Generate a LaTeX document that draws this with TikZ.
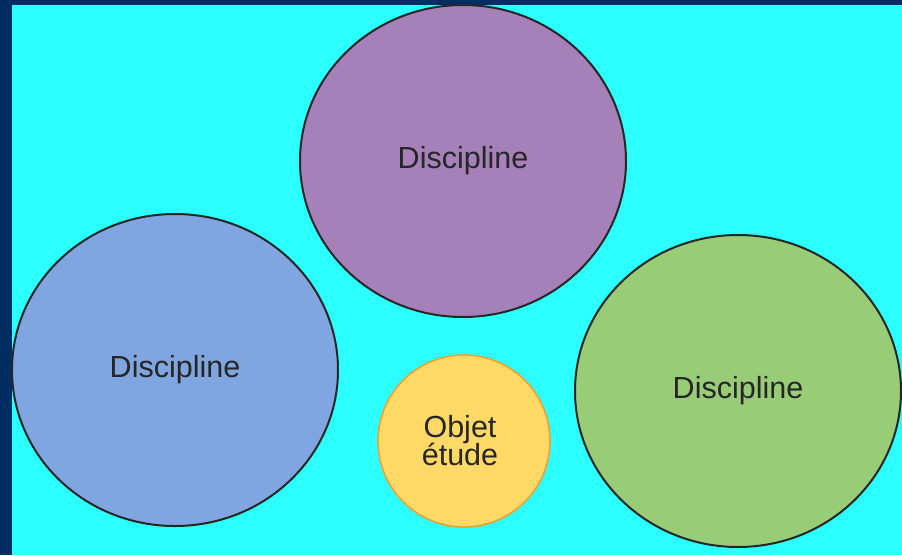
\documentclass[tikz,border=0pt]{standalone}
\usepackage{fontspec}
\setmainfont{Liberation Sans}
\usetikzlibrary{shapes.geometric}

\definecolor{navy}{HTML}{002E63}
\definecolor{sky}{HTML}{2CFFFF}
\definecolor{lilac}{HTML}{A680B8}
\definecolor{cornflower}{HTML}{7FA6E0}
\definecolor{leaf}{HTML}{99CC77}
\definecolor{butter}{HTML}{FFD966}
\definecolor{amber}{HTML}{F0A030}

\begin{document}
\begin{tikzpicture}[x=1pt,y=-1pt,
  every node/.style={font=\fontsize{30.5}{31}\selectfont,text=black!85},
  field/.style={ellipse,draw=black!85,line width=2pt,inner sep=0pt,
    minimum width=326pt,minimum height=312pt},
  core/.style={circle,draw=amber,line width=1.6pt,fill=butter,inner sep=0pt,
    minimum size=172pt,align=center}]
  \useasboundingbox (0,0) rectangle (902,555);
  \fill[navy] (0,0) rectangle (902,555);
  \fill[sky] (12,5) rectangle (902,555);
  \node[field,fill=lilac] (top) at (463,161) {Discipline};
  \node[field,fill=cornflower] (left) at (175,370) {Discipline};
  \node[field,fill=leaf] (right) at (738,391) {Discipline};
  \node[core] (obj) at (464,441) {\hspace*{-8pt}Objet\\[-3pt]\hspace*{-8pt}étude};
\end{tikzpicture}
\end{document}
